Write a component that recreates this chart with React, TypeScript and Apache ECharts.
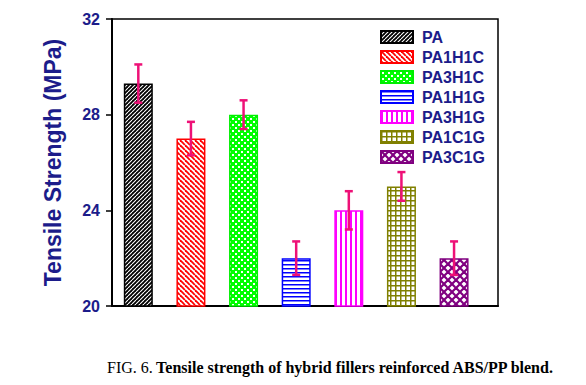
import React, { useEffect, useRef } from "react";
import * as echarts from "echarts";

const categories = ["PA", "PA1H1C", "PA3H1C", "PA1H1G", "PA3H1G", "PA1C1G", "PA3C1G"];
const strengths = [29.3, 27.0, 28.0, 22.0, 24.0, 25.0, 22.0];
const errors = [0.8, 0.7, 0.6, 0.7, 0.8, 0.6, 0.7];
const yTicks = [20, 24, 28, 32];
const borderColors = ["#000000", "#ff0000", "#00ee00", "#0000ff", "#ff00ff", "#808000", "#800080"];

function makeTile(size: number, draw: (c: CanvasRenderingContext2D, s: number) => void) {
  const cv = document.createElement("canvas");
  cv.width = size;
  cv.height = size;
  const c = cv.getContext("2d")!;
  draw(c, size);
  return cv;
}

function diag(c: CanvasRenderingContext2D, s: number, dir: number) {
  for (let k = -1; k <= 1; k++) {
    c.beginPath();
    if (dir > 0) {
      c.moveTo(k * s, s);
      c.lineTo(k * s + s, 0);
    } else {
      c.moveTo(k * s, 0);
      c.lineTo(k * s + s, s);
    }
    c.stroke();
  }
}

function buildPatterns() {
  const pa = makeTile(4, (c, s) => {
    c.fillStyle = "#000";
    c.fillRect(0, 0, s, s);
    c.strokeStyle = "#fff";
    c.lineWidth = 1.1;
    diag(c, s, 1);
  });
  const p1h1c = makeTile(5, (c, s) => {
    c.fillStyle = "#fff";
    c.fillRect(0, 0, s, s);
    c.strokeStyle = "#ff0000";
    c.lineWidth = 1.8;
    diag(c, s, -1);
  });
  const p3h1c = makeTile(6, (c, s) => {
    c.fillStyle = "#00ff00";
    c.fillRect(0, 0, s, s);
    c.fillStyle = "#fff";
    c.fillRect(1, 1, 2, 2);
    c.fillRect(4, 4, 2, 2);
  });
  const p1h1g = makeTile(4, (c, s) => {
    c.fillStyle = "#fff";
    c.fillRect(0, 0, s, s);
    c.fillStyle = "#0000ff";
    c.fillRect(0, 0, s, 1.5);
  });
  const p3h1g = makeTile(5, (c, s) => {
    c.fillStyle = "#fff";
    c.fillRect(0, 0, s, s);
    c.fillStyle = "#ff00ff";
    c.fillRect(0, 0, 2, s);
  });
  const p1c1g = makeTile(5, (c, s) => {
    c.fillStyle = "#fff";
    c.fillRect(0, 0, s, s);
    c.fillStyle = "#808000";
    c.fillRect(0, 0, s, 1.5);
    c.fillRect(0, 0, 1.5, s);
  });
  const p3c1g = makeTile(8, (c, s) => {
    c.fillStyle = "#fff";
    c.fillRect(0, 0, s, s);
    c.strokeStyle = "#800080";
    c.lineWidth = 2.2;
    diag(c, s, 1);
    diag(c, s, -1);
  });
  return [pa, p1h1c, p3h1c, p1h1g, p3h1g, p1c1g, p3c1g];
}

export default function App() {
  const ref = useRef<HTMLDivElement>(null);
  useEffect(() => {
    document.body.style.margin = "0";
    const chart = echarts.init(ref.current!, null, { renderer: "svg" });
    const patterns = buildPatterns();
    const navy = "#1c1c8a";

    const barSeries = categories.map((name, i) => ({
      name,
      type: "bar",
      barWidth: 29,
      barGap: "-100%",
      data: [[i + 1, strengths[i]]],
      itemStyle: {
        color: { image: patterns[i], repeat: "repeat" },
        borderColor: borderColors[i],
        borderWidth: 1.5,
      },
      z: 2,
    }));

    const errData = categories.map((_, i) => [i + 1, strengths[i] - errors[i], strengths[i] + errors[i]]);

    chart.setOption({
      animation: false,
      backgroundColor: "#fff",
      grid: {
        left: 112,
        right: 88,
        top: 19,
        bottom: 79,
        show: true,
        borderColor: "#000",
        borderWidth: 1.5,
        backgroundColor: "transparent",
      },
      legend: {
        orient: "vertical",
        left: 380,
        top: 29,
        padding: 0,
        itemWidth: 32,
        itemHeight: 12,
        itemGap: 4,
        icon: "rect",
        data: categories,
        selectedMode: false,
        textStyle: {
          color: navy,
          fontFamily: "Liberation Sans",
          fontWeight: "bold",
          fontSize: 16,
          lineHeight: 16,
          padding: [0, 0, 0, 4],
        },
      },
      xAxis: {
        type: "value",
        min: 0.5,
        max: 7.835,
        axisLine: { show: true, lineStyle: { color: "#000", width: 2 } },
        axisTick: { show: false },
        axisLabel: { show: false },
        splitLine: { show: false },
      },
      yAxis: {
        type: "value",
        min: yTicks[0],
        max: yTicks[yTicks.length - 1],
        interval: 4,
        name: "Tensile Strength (MPa)",
        nameLocation: "middle",
        nameGap: 48,
        nameTextStyle: {
          color: navy,
          fontFamily: "Liberation Sans",
          fontWeight: "bold",
          fontSize: 23,
        },
        axisLine: { show: true, lineStyle: { color: "#000", width: 2 } },
        axisTick: { show: true, length: 6, lineStyle: { color: "#000", width: 1.5 } },
        axisLabel: {
          margin: 12,
          color: navy,
          fontFamily: "Liberation Sans",
          fontWeight: "bold",
          fontSize: 16,
        },
        splitLine: { show: false },
      },
      series: [
        ...barSeries,
        {
          type: "custom",
          name: "error",
          z: 10,
          data: errData,
          renderItem: (params: any, api: any) => {
            const x = api.value(0);
            const lo = api.coord([x, api.value(1)]);
            const hi = api.coord([x, api.value(2)]);
            const cap = 4;
            const style = { stroke: "#ee1177", lineWidth: 2.5 };
            return {
              type: "group",
              children: [
                { type: "line", shape: { x1: lo[0], y1: lo[1], x2: hi[0], y2: hi[1] }, style },
                { type: "line", shape: { x1: hi[0] - cap, y1: hi[1], x2: hi[0] + cap, y2: hi[1] }, style },
                { type: "line", shape: { x1: lo[0] - cap, y1: lo[1], x2: lo[0] + cap, y2: lo[1] }, style },
              ],
            };
          },
        },
      ],
      graphic: [
        {
          type: "text",
          left: 107,
          top: 359,
          style: {
            text: "{a|FIG. 6.} {b|Tensile strength of hybrid fillers reinforced ABS/PP blend.}",
            rich: {
              a: { fontFamily: "Liberation Serif", fontSize: 16, fill: "#000", fontWeight: "normal" },
              b: { fontFamily: "Liberation Serif", fontSize: 16, fill: "#000", fontWeight: "bold" },
            },
          },
        },
      ],
    });
    return () => chart.dispose();
  }, []);
  return <div ref={ref} style={{ width: 586, height: 385 }} />;
}
